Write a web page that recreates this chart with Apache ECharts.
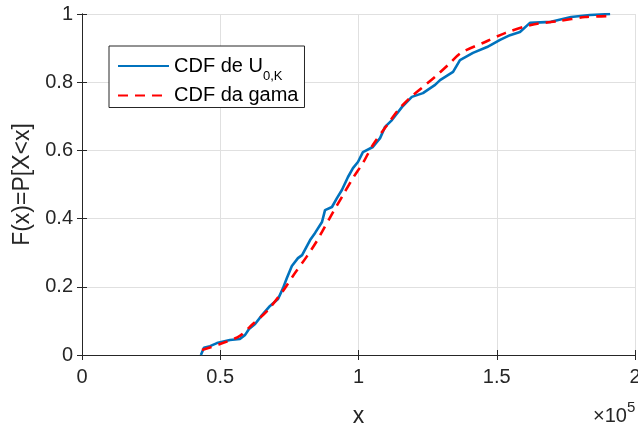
<!DOCTYPE html>
<html>
<head>
<meta charset="utf-8">
<script src="https://cdn.jsdelivr.net/npm/echarts@6/dist/echarts.min.js"></script>
<style>
  html, body { margin: 0; padding: 0; background: #fff; }
  #chart { width: 638px; height: 423px; }
</style>
</head>
<body>
<div id="chart"></div>
<script>
// empirical CDF (blue)
const empX = [43000, 44100, 46300, 48800, 53500, 57100, 59000, 60400, 62600, 65100, 68000, 70900, 72700, 74100, 75900, 78100, 79600, 82500, 84300, 86800, 87900, 90400, 92200, 94000, 96200, 98000, 99800, 101600, 105200, 107800, 109600, 112100, 115700, 119300, 123300, 127700, 129500, 134200, 136700, 141400, 146500, 151200, 154800, 158400, 162000, 169600, 176900, 183700, 191000]
const empF = [0, 0.021, 0.026, 0.035, 0.044, 0.047, 0.059, 0.076, 0.091, 0.117, 0.144, 0.164, 0.196, 0.226, 0.261, 0.284, 0.293, 0.337, 0.358, 0.390, 0.425, 0.434, 0.460, 0.484, 0.522, 0.548, 0.566, 0.595, 0.610, 0.636, 0.669, 0.689, 0.727, 0.757, 0.768, 0.792, 0.806, 0.830, 0.865, 0.886, 0.903, 0.924, 0.938, 0.947, 0.974, 0.977, 0.991, 0.997, 1.0]

// fitted gamma CDF (red dashed)
const gamX = [43400, 49900, 57100, 61800, 66900, 72700, 76300, 81400, 85000, 87200, 90800, 94400, 98000, 101600, 105200, 110300, 114300, 118600, 123300, 128400, 133100, 137100, 145800, 153000, 162400, 172200, 181900, 190200]
const gamF = [0.015, 0.032, 0.056, 0.091, 0.129, 0.188, 0.232, 0.29, 0.335, 0.367, 0.419, 0.469, 0.519, 0.563, 0.616, 0.674, 0.718, 0.754, 0.786, 0.821, 0.856, 0.886, 0.918, 0.944, 0.968, 0.979, 0.991, 0.994]

const seriesNames = ['CDF de U0,K', 'CDF da gama']
const xTicks = [0, 50000, 100000, 150000, 200000]

const font = "'Liberation Sans', Arial, Helvetica, sans-serif"
const dark = '#262626'

const chart = echarts.init(document.getElementById('chart'))

const baseAxis = {
    axisLine: { show: true, lineStyle: { color: dark, width: 1 } },
    axisTick: { show: true, inside: true, length: 5, lineStyle: { color: dark } },
    splitLine: { show: false }
}

const option = {
    animation: false,
    backgroundColor: '#fff',
    grid: { left: 82, right: 3, top: 14, bottom: 68, outerBoundsMode: 'none' },
    legend: {
        orient: 'vertical',
        left: 109,
        top: 46,
        padding: [10, 6, 2, 8],
        itemGap: 3,
        itemWidth: 51,
        itemHeight: 14,
        borderColor: dark,
        borderWidth: 1,
        backgroundColor: '#fff',
        itemStyle: { color: 'rgba(0,0,0,0)', borderWidth: 0, opacity: 0 },
        data: seriesNames,
        formatter: function (name) {
            if (name === seriesNames[0]) return 'CDF de U{sub|0,K}'
            return name
        },
        textStyle: {
            fontFamily: font,
            fontSize: 20,
            color: '#000',
            rich: {
                sub: { fontFamily: font, fontSize: 13, color: '#000', padding: [20, 0, 0, 0] }
            }
        }
    },
    xAxis: [
        Object.assign({}, baseAxis, {
            type: 'value',
            min: xTicks[0],
            max: xTicks[xTicks.length - 1],
            interval: 50000,
            name: 'x',
            nameLocation: 'middle',
            nameGap: 50,
            nameTextStyle: { fontFamily: font, fontSize: 23, color: dark },
            axisLabel: {
                margin: 12,
                fontFamily: font,
                fontSize: 20,
                color: dark,
                showMinLabel: true,
                showMaxLabel: true,
                formatter: function (v) { return String(v / 1e5) }
            },
            splitLine: { show: true, lineStyle: { color: '#e0e0e0', width: 1 } }
        }),
        Object.assign({}, baseAxis, {
            type: 'value',
            position: 'top',
            min: xTicks[0],
            max: xTicks[xTicks.length - 1],
            interval: 50000,
            axisLabel: { show: false }
        })
    ],
    yAxis: [
        Object.assign({}, baseAxis, {
            type: 'value',
            min: 0,
            max: 1,
            interval: 0.2,
            name: 'F(x)=P[X<x]',
            nameLocation: 'middle',
            nameGap: 42,
            nameTextStyle: { fontFamily: font, fontSize: 23, color: dark },
            axisLabel: { margin: 9, fontFamily: font, fontSize: 20, color: dark },
            splitLine: { show: true, lineStyle: { color: '#e0e0e0', width: 1 } }
        }),
        Object.assign({}, baseAxis, {
            type: 'value',
            position: 'right',
            min: 0,
            max: 1,
            interval: 0.2,
            axisLabel: { show: false }
        })
    ],
    graphic: [
        {
            type: 'text',
            left: 593,
            top: 400,
            style: {
                text: '×10{sup|5}',
                fontFamily: font,
                fontSize: 20,
                fill: dark,
                rich: {
                    sup: { fontFamily: font, fontSize: 15, fill: dark, padding: [0, 0, 18, 0] }
                }
            }
        }
    ],
    series: [
        {
            name: seriesNames[0],
            type: 'line',
            data: empX.map((x, i) => [x, empF[i]]),
            showSymbol: false,
            symbol: 'none',
            lineStyle: { color: '#0072BD', width: 2.6 },
            itemStyle: { color: '#0072BD' }
        },
        {
            name: seriesNames[1],
            type: 'line',
            data: gamX.map((x, i) => [x, gamF[i]]),
            showSymbol: false,
            symbol: 'none',
            smooth: 0.3,
            lineStyle: { color: '#FF0000', width: 2.6, type: [10, 7] },
            itemStyle: { color: '#FF0000' }
        }
    ]
}

chart.setOption(option)
</script>
</body>
</html>
